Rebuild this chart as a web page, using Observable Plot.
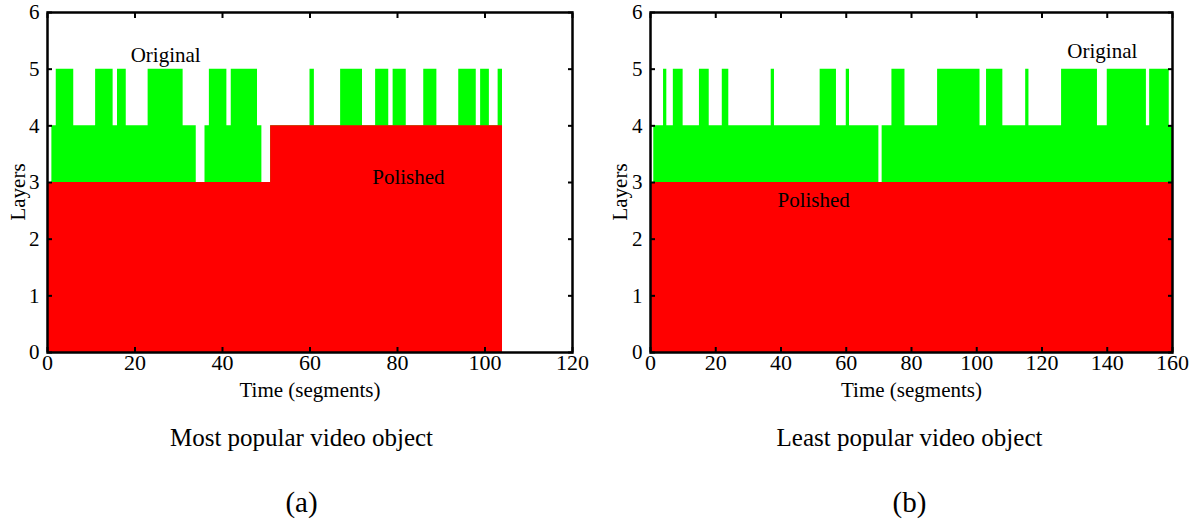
<!DOCTYPE html>
<html><head><meta charset="utf-8">
<script src="https://cdn.jsdelivr.net/npm/d3@7"></script>
<script src="https://cdn.jsdelivr.net/npm/@observablehq/plot@0.6"></script>
<style>
body{margin:0;background:#fff;font-family:"Liberation Serif","Times New Roman",serif;}
#wrap{position:relative;width:1202px;height:527px;overflow:hidden;background:#fff;}
.panel{position:absolute;top:0;}
.cap{position:absolute;transform:translate(-50%,-50%);white-space:nowrap;color:#000;font-family:"Liberation Serif",serif;line-height:1;}
.rot{transform:translate(-50%,-50%) rotate(-90deg);}
</style></head><body><div id="wrap"></div>
<script>
// ---- data ----
const yTicks = [0, 1, 2, 3, 4, 5, 6];
const xTicksA = [0, 20, 40, 60, 80, 100, 120];
const xTicksB = [0, 20, 40, 60, 80, 100, 120, 140, 160];

// layers per segment, most popular object (a)
const originalA = [
  3,4,5,5,5,5,4,4,4,4,
  4,5,5,5,5,4,5,5,4,4,
  4,4,4,5,5,5,5,5,5,5,
  5,4,4,4,3,3,4,5,5,5,
  5,4,5,5,5,5,5,5,4,3,
  3,4,4,4,4,4,4,4,4,4,
  5,4,4,4,4,4,4,5,5,5,
  5,5,4,4,4,5,5,5,4,5,
  5,5,4,4,4,4,5,5,5,4,
  4,4,4,4,5,5,5,5,4,5,
  5,4,4,5
];
const polishedA = [
  3,3,3,3,3,3,3,3,3,3,
  3,3,3,3,3,3,3,3,3,3,
  3,3,3,3,3,3,3,3,3,3,
  3,3,3,3,3,3,3,3,3,3,
  3,3,3,3,3,3,3,3,3,3,
  3,4,4,4,4,4,4,4,4,4,
  4,4,4,4,4,4,4,4,4,4,
  4,4,4,4,4,4,4,4,4,4,
  4,4,4,4,4,4,4,4,4,4,
  4,4,4,4,4,4,4,4,4,4,
  4,4,4,4
];
// layers per segment, least popular object (b)
const originalB = [
  3,4,4,4,5,4,4,5,5,5,
  4,4,4,4,4,5,5,5,4,4,
  4,4,5,5,4,4,4,4,4,4,
  4,4,4,4,4,4,4,5,4,4,
  4,4,4,4,4,4,4,4,4,4,
  4,4,5,5,5,5,5,4,4,4,
  5,4,4,4,4,4,4,4,4,4,
  3,4,4,4,5,5,5,5,4,4,
  4,4,4,4,4,4,4,4,5,5,
  5,5,5,5,5,5,5,5,5,5,
  5,4,4,5,5,5,5,5,4,4,
  4,4,4,4,4,5,4,4,4,4,
  4,4,4,4,4,4,5,5,5,5,
  5,5,5,5,5,5,5,4,4,4,
  5,5,5,5,5,5,5,5,5,5,
  5,5,4,5,5,5,5,5,5,4
];
const polishedB = [
  3,3,3,3,3,3,3,3,3,3,
  3,3,3,3,3,3,3,3,3,3,
  3,3,3,3,3,3,3,3,3,3,
  3,3,3,3,3,3,3,3,3,3,
  3,3,3,3,3,3,3,3,3,3,
  3,3,3,3,3,3,3,3,3,3,
  3,3,3,3,3,3,3,3,3,3,
  3,3,3,3,3,3,3,3,3,3,
  3,3,3,3,3,3,3,3,3,3,
  3,3,3,3,3,3,3,3,3,3,
  3,3,3,3,3,3,3,3,3,3,
  3,3,3,3,3,3,3,3,3,3,
  3,3,3,3,3,3,3,3,3,3,
  3,3,3,3,3,3,3,3,3,3,
  3,3,3,3,3,3,3,3,3,3,
  3,3,3,3,3,3,3,3,3,3
];
const notesA = [{label: "Original", t: 27, v: 5.25}, {label: "Polished", t: 82.5, v: 3.1}];
const notesB = [{label: "Original", t: 138.5, v: 5.32}, {label: "Polished", t: 50, v: 2.68}];
const titles = ["Most popular video object", "Least popular video object"];
const tags = ["(a)", "(b)"];
const xLabel = "Time (segments)";
const yLabel = "Layers";

// ---- drawing ----
function steps(vals) {
  const pts = vals.map((v, i) => ({t: i, v}));
  pts.push({t: vals.length, v: vals[vals.length - 1]});
  return pts;
}
const FONT = '"Liberation Serif","Times New Roman",serif';
function chart(orig, pol, xMax, xTicks, notes, width, mL, mR) {
  return Plot.plot({
    width, height: 410,
    marginLeft: mL, marginRight: mR, marginTop: 12, marginBottom: 58,
    style: {fontFamily: FONT, fontSize: "21px", color: "#000", background: "transparent", overflow: "visible"},
    x: {domain: [0, xMax]},
    y: {domain: [0, 6]},
    marks: [
      Plot.areaY(steps(orig), {x: "t", y: "v", curve: "step-after", fill: "#00ff00"}),
      Plot.areaY(steps(pol), {x: "t", y: "v", curve: "step-after", fill: "#ff0000"}),
      Plot.text(notes, {x: "t", y: "v", text: "label", fontSize: 21, fill: "#000"}),
      Plot.axisX(xTicks, {anchor: "bottom", tickSize: -5, tickPadding: 7, strokeWidth: 2, label: null, fontSize: 22, tickFormat: d => String(d)}),
      Plot.axisX(xTicks, {anchor: "top", tickSize: -5, tickFormat: () => "", strokeWidth: 2, label: null}),
      Plot.axisY(yTicks, {anchor: "left", tickSize: -5, tickPadding: 13, strokeWidth: 2, label: null, fontSize: 21, tickFormat: d => String(d)}),
      Plot.axisY(yTicks, {anchor: "right", tickSize: -5, tickFormat: () => "", strokeWidth: 2, label: null}),
      Plot.frame({stroke: "#000", strokeWidth: 2.5}),
      Plot.text([xLabel], {text: d => d, frameAnchor: "bottom", dy: 44, fontSize: 21, fill: "#000"})
    ]
  });
}
const wrap = document.getElementById("wrap");
const a = chart(originalA, polishedA, 120, xTicksA, notesA, 600, 47, 28);
a.classList.add("panel"); a.style.left = "0px";
wrap.appendChild(a);
const b = chart(originalB, polishedB, 160, xTicksB, notesB, 602, 50, 30);
b.classList.add("panel"); b.style.left = "600px";
wrap.appendChild(b);

const capPos = [
  [301.5, 437, 25, titles[0], ""], [909.5, 437, 25, titles[1], ""],
  [301.5, 502, 29, tags[0], ""], [909.5, 502, 29, tags[1], ""],
  [18, 192, 21, yLabel, "rot"], [620, 192, 21, yLabel, "rot"]
];
for (const [x, y, fs, txt, cls] of capPos) {
  const d = document.createElement("div");
  d.className = "cap " + cls;
  d.style.left = x + "px"; d.style.top = y + "px"; d.style.fontSize = fs + "px";
  d.textContent = txt;
  wrap.appendChild(d);
}
</script>
</body></html>
